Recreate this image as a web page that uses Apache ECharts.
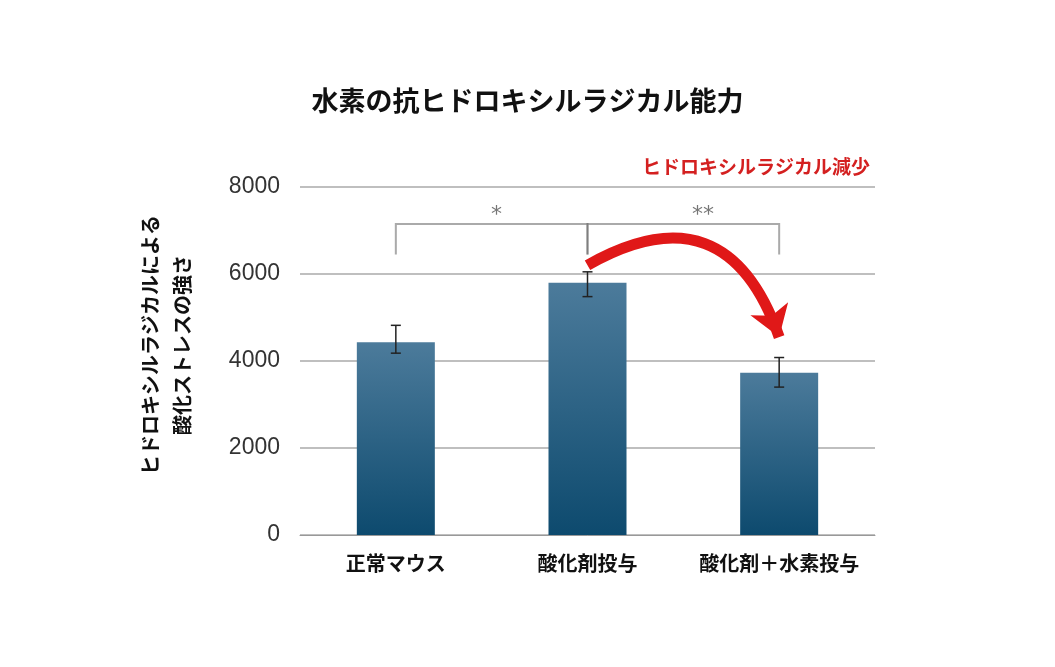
<!DOCTYPE html>
<html><head><meta charset="utf-8">
<script src="https://cdn.jsdelivr.net/npm/echarts@6/dist/echarts.min.js"></script>
<style>body{margin:0;background:#fff}#c{width:1055px;height:667px}</style>
</head><body><div id="c"></div>
<script>
const categories = ['正常マウス', '酸化剤投与', '酸化剤＋水素投与'];
const values = [4430, 5800, 3730];
const errLow = [4180, 5480, 3400];
const errHigh = [4820, 6050, 4080];
const yTicks = [0, 2000, 4000, 6000, 8000];

const font = '"Noto Sans CJK JP", sans-serif';
const chart = echarts.init(document.getElementById('c'));

function bracket(a, b) {
    return { coords: [[a, 6450], [a, 7150], [b, 7150], [b, 6450]] };
}

chart.setOption({
    animation: false,
    title: {
        text: '水素の抗ヒドロキシルラジカル能力',
        left: 'center', top: 82,
        textStyle: { fontFamily: font, fontSize: 27, fontWeight: 'bold', color: '#111' }
    },
    grid: { left: 300, right: 180, top: 187, bottom: 132 },
    xAxis: {
        type: 'category',
        data: categories,
        axisLine: { lineStyle: { color: '#999' } },
        axisTick: { show: false },
        axisLabel: { interval: 0, fontFamily: font, fontSize: 20, fontWeight: 'bold', color: '#111', margin: 18 }
    },
    yAxis: {
        type: 'value', min: yTicks[0], max: yTicks[yTicks.length - 1], interval: 2000,
        axisLabel: { formatter: v => String(v), fontFamily: 'Liberation Sans, Arial', fontSize: 23, color: '#333', margin: 20 },
        splitLine: { lineStyle: { color: '#aaa', width: 1.5 } }
    },
    graphic: [
        { type: 'text', x: 166, y: 345, rotation: Math.PI / 2,
          style: { text: 'ヒドロキシルラジカルによる\n酸化ストレスの強さ', fontFamily: font, fontSize: 20,
                   fontWeight: 'bold', fill: '#111', align: 'center', verticalAlign: 'middle', lineHeight: 32 } },
        { type: 'text', right: 185, top: 157,
          style: { text: 'ヒドロキシルラジカル減少', fontFamily: font, fontSize: 19, fontWeight: 'bold', fill: '#d42020' } },
        { type: 'text', left: 491, top: 204, style: { text: '*', fontSize: 22, fill: '#777', fontFamily: 'DejaVu Sans' } },
        { type: 'text', left: 692, top: 204, style: { text: '**', fontSize: 22, fill: '#777', fontFamily: 'DejaVu Sans' } }
    ],
    series: [
        {
            type: 'bar', data: values, barWidth: 78,
            itemStyle: {
                color: new echarts.graphic.LinearGradient(0, 0, 0, 1, [
                    { offset: 0, color: '#4c7b9b' }, { offset: 1, color: '#0d4a6e' }
                ])
            }
        },
        {
            type: 'custom',
            data: categories.map((c, i) => [i, errLow[i], errHigh[i]]),
            renderItem: function (params, api) {
                const lo = api.coord([api.value(0), api.value(1)]);
                const hi = api.coord([api.value(0), api.value(2)]);
                const w = 5;
                const s = { stroke: '#222', lineWidth: 1.5 };
                return { type: 'group', children: [
                    { type: 'line', shape: { x1: lo[0], y1: lo[1], x2: hi[0], y2: hi[1] }, style: s },
                    { type: 'line', shape: { x1: lo[0] - w, y1: lo[1], x2: lo[0] + w, y2: lo[1] }, style: s },
                    { type: 'line', shape: { x1: hi[0] - w, y1: hi[1], x2: hi[0] + w, y2: hi[1] }, style: s }
                ] };
            },
            z: 5
        },
        {
            type: 'lines', coordinateSystem: 'cartesian2d', polyline: true,
            lineStyle: { color: '#555', width: 2 },
            data: [bracket(0, 0.98), bracket(1.03, 2)],
            z: 5
        },
        {
            type: 'lines', coordinateSystem: 'cartesian2d',
            symbol: ['none', 'arrow'], symbolSize: 30,
            lineStyle: { color: '#e01818', width: 11, curveness: 0.6, opacity: 1 },
            data: [{ coords: [[1.15, 6200], [2.02, 4550]] }],
            z: 6
        }
    ]
});
</script></body></html>
